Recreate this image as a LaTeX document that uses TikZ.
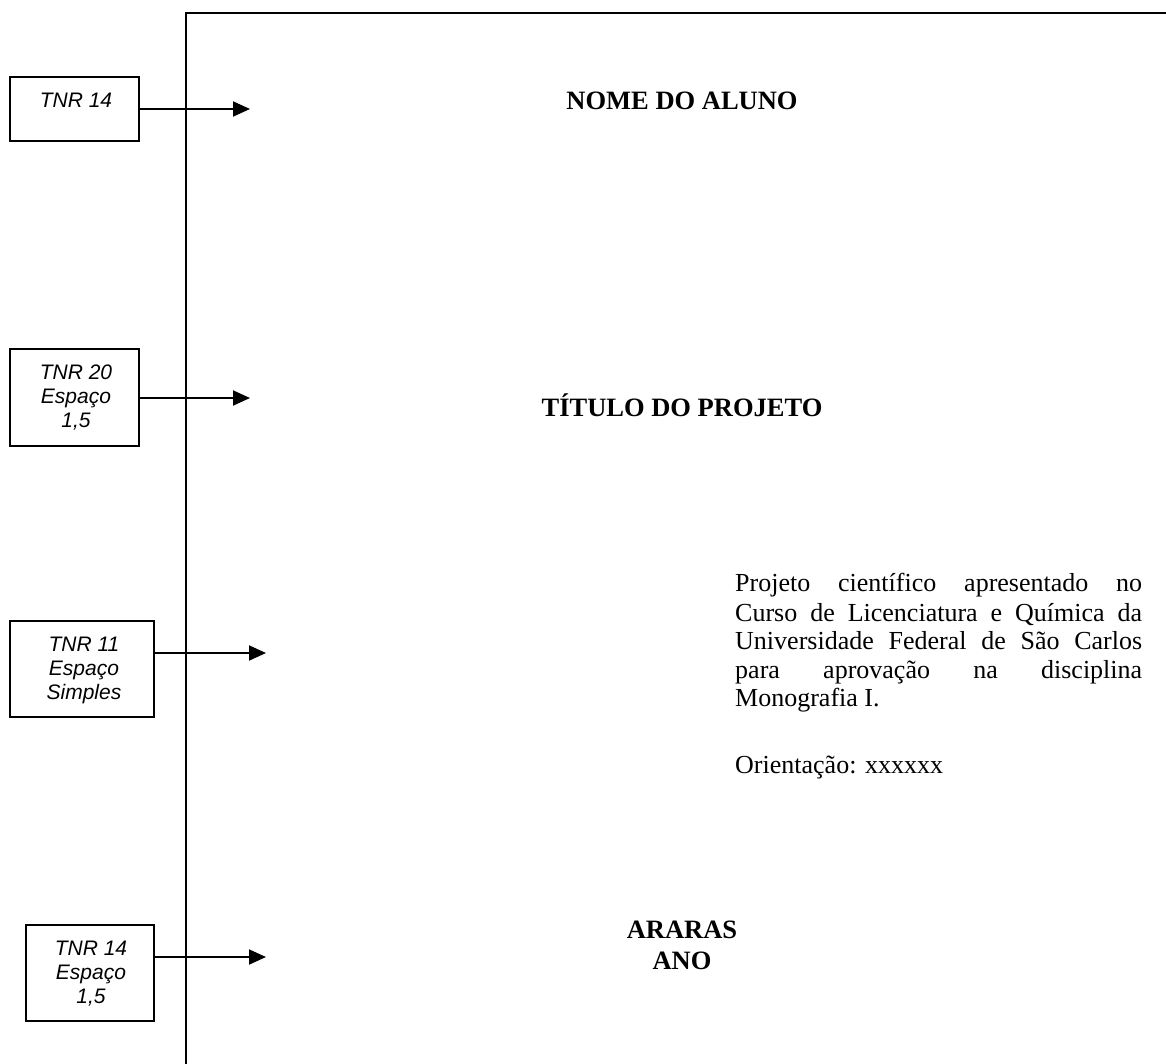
\documentclass[tikz,border=0pt]{standalone}
\usepackage{fontspec}
\setmainfont{Liberation Serif}
\setsansfont{Liberation Sans}
\usetikzlibrary{arrows.meta}
\begin{document}
\begin{tikzpicture}[x=1pt,y=-1pt,
  ln/.style={line width=1.9pt},
  fbox/.style={draw,line width=1.9pt,inner sep=0pt},
  lbl/.style={font=\sffamily\itshape\fontsize{21}{24}\selectfont, align=center, inner sep=0pt, anchor=north},
  arr/.style={line width=1.9pt,-{Triangle[length=17pt,width=15pt]}},
  ttl/.style={font=\bfseries\fontsize{26.5}{31}\selectfont, inner sep=0pt, anchor=base},
  body/.style={font=\fontsize{26}{28.75}\selectfont, inner sep=0pt, anchor=base west}]
\useasboundingbox (0,0) rectangle (1166,1064);
% page edge
\draw[ln] (186,1064) -- (186,13) -- (1166,13);
% left boxes
\node[fbox,minimum width=129pt,minimum height=64pt] (b1) at (74.5,109) {};
\node[lbl] (l1) at (76,93) {TNR 14};
\node[fbox,minimum width=129pt,minimum height=97pt] (b2) at (74.5,397.5) {};
\node[lbl] (l2) at (76,365) {TNR 20\\Espaço\\1,5};
\node[fbox,minimum width=144pt,minimum height=96pt] (b3) at (82,669) {};
\node[lbl] (l3) at (84,637) {TNR 11\\Espaço\\Simples};
\node[fbox,minimum width=128pt,minimum height=96pt] (b4) at (90,973) {};
\node[lbl] (l4) at (91,941) {TNR 14\\Espaço\\1,5};
% arrow tips
\coordinate (t1) at (250,109);
\coordinate (t2) at (250,398);
\coordinate (t3) at (266,653);
\coordinate (t4) at (266,957);
\draw[arr] (b1.east) -- (t1);
\draw[arr] (b2.east |- t2) -- (t2);
\draw[arr] (b3.east |- t3) -- (t3);
\draw[arr] (b4.east |- t4) -- (t4);
% titles
\node[ttl] (nome) at (682,110) {NOME DO ALUNO};
\node[ttl] (titulo) at (682,416) {TÍTULO DO PROJETO};
\node[ttl] (araras) at (682,938) {ARARAS};
\node[ttl] (ano) at (682,969) {ANO};
% description
\node[body] (p1) at (735,591.7) {\makebox[407pt][s]{Projeto científico apresentado no}};
\node[body] (p2) at (735,621) {\makebox[407pt][s]{Curso de Licenciatura e Química da}};
\node[body] (p3) at (735,649.3) {\makebox[407pt][s]{Universidade Federal de São Carlos}};
\node[body] (p4) at (735,678.3) {\makebox[407pt][s]{para aprovação na disciplina}};
\node[body] (p5) at (735,706.7) {Monografia I.};
\node[body] (orient) at (735,773) {Orientação: xxxxxx};
\end{tikzpicture}
\end{document}
